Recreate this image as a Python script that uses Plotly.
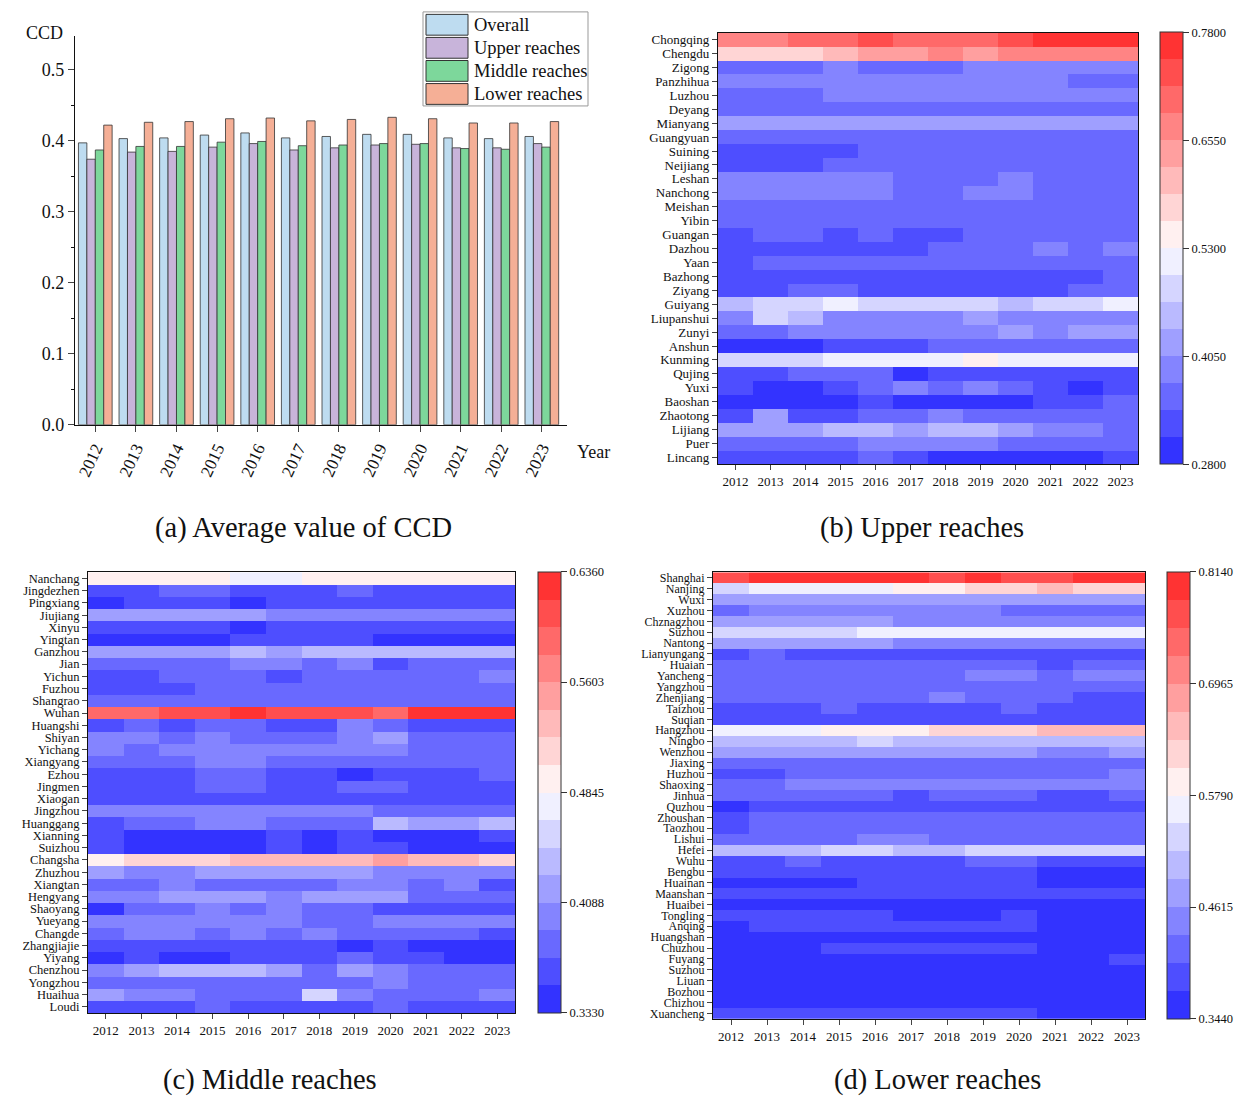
import plotly.graph_objects as go

# ---------------- data ----------------
years = [2012, 2013, 2014, 2015, 2016, 2017, 2018, 2019, 2020, 2021, 2022, 2023]

ccd_overall = [0.397, 0.403, 0.404, 0.408, 0.411, 0.404, 0.406, 0.409, 0.409, 0.404, 0.403, 0.406]
ccd_upper   = [0.374, 0.384, 0.385, 0.391, 0.396, 0.387, 0.390, 0.394, 0.395, 0.390, 0.390, 0.396]
ccd_middle  = [0.387, 0.392, 0.392, 0.398, 0.399, 0.393, 0.394, 0.396, 0.396, 0.389, 0.388, 0.391]
ccd_lower   = [0.422, 0.426, 0.427, 0.431, 0.432, 0.428, 0.430, 0.433, 0.431, 0.425, 0.425, 0.427]

upper_cities = ["Chongqing", "Chengdu", "Zigong", "Panzhihua", "Luzhou", "Deyang", "Mianyang",
                "Guangyuan", "Suining", "Neijiang", "Leshan", "Nanchong", "Meishan", "Yibin",
                "Guangan", "Dazhou", "Yaan", "Bazhong", "Ziyang", "Guiyang", "Liupanshui", "Zunyi",
                "Anshun", "Kunming", "Qujing", "Yuxi", "Baoshan", "Zhaotong", "Lijiang", "Puer", "Lincang"]
upper_ccd = [
    [0.671, 0.671, 0.702, 0.702, 0.733, 0.702, 0.702, 0.702, 0.733, 0.764, 0.764, 0.764],
    [0.577, 0.577, 0.577, 0.608, 0.639, 0.639, 0.671, 0.639, 0.671, 0.671, 0.671, 0.671],
    [0.358, 0.358, 0.358, 0.389, 0.358, 0.358, 0.358, 0.389, 0.389, 0.389, 0.389, 0.389],
    [0.389, 0.389, 0.389, 0.389, 0.389, 0.389, 0.389, 0.389, 0.389, 0.389, 0.358, 0.358],
    [0.358, 0.358, 0.358, 0.389, 0.389, 0.389, 0.389, 0.389, 0.389, 0.389, 0.389, 0.389],
    [0.358, 0.358, 0.358, 0.358, 0.358, 0.358, 0.358, 0.358, 0.358, 0.358, 0.358, 0.358],
    [0.421, 0.421, 0.421, 0.421, 0.421, 0.421, 0.421, 0.421, 0.421, 0.421, 0.421, 0.421],
    [0.358, 0.358, 0.358, 0.358, 0.358, 0.358, 0.358, 0.358, 0.358, 0.358, 0.358, 0.358],
    [0.327, 0.327, 0.327, 0.327, 0.358, 0.358, 0.358, 0.358, 0.358, 0.358, 0.358, 0.358],
    [0.327, 0.327, 0.327, 0.358, 0.358, 0.358, 0.358, 0.358, 0.358, 0.358, 0.358, 0.358],
    [0.389, 0.389, 0.389, 0.389, 0.389, 0.358, 0.358, 0.358, 0.389, 0.358, 0.358, 0.358],
    [0.389, 0.389, 0.389, 0.389, 0.389, 0.358, 0.358, 0.389, 0.389, 0.358, 0.358, 0.358],
    [0.358, 0.358, 0.358, 0.358, 0.358, 0.358, 0.358, 0.358, 0.358, 0.358, 0.358, 0.358],
    [0.358, 0.358, 0.358, 0.358, 0.358, 0.358, 0.358, 0.358, 0.358, 0.358, 0.358, 0.358],
    [0.327, 0.358, 0.358, 0.327, 0.358, 0.327, 0.327, 0.358, 0.358, 0.358, 0.358, 0.358],
    [0.327, 0.327, 0.327, 0.327, 0.327, 0.327, 0.358, 0.358, 0.358, 0.389, 0.358, 0.389],
    [0.327, 0.358, 0.358, 0.358, 0.358, 0.358, 0.358, 0.358, 0.358, 0.358, 0.358, 0.358],
    [0.327, 0.327, 0.327, 0.327, 0.327, 0.327, 0.327, 0.327, 0.327, 0.327, 0.327, 0.358],
    [0.327, 0.327, 0.358, 0.358, 0.327, 0.327, 0.327, 0.327, 0.327, 0.327, 0.358, 0.358],
    [0.452, 0.483, 0.483, 0.514, 0.483, 0.483, 0.483, 0.483, 0.452, 0.483, 0.483, 0.514],
    [0.389, 0.483, 0.452, 0.389, 0.389, 0.389, 0.389, 0.421, 0.389, 0.389, 0.389, 0.389],
    [0.358, 0.358, 0.389, 0.389, 0.389, 0.389, 0.389, 0.389, 0.421, 0.389, 0.421, 0.421],
    [0.296, 0.296, 0.296, 0.327, 0.327, 0.327, 0.358, 0.358, 0.358, 0.358, 0.358, 0.358],
    [0.483, 0.483, 0.483, 0.514, 0.514, 0.514, 0.514, 0.546, 0.514, 0.514, 0.514, 0.514],
    [0.327, 0.327, 0.358, 0.358, 0.358, 0.296, 0.327, 0.327, 0.327, 0.327, 0.327, 0.327],
    [0.327, 0.296, 0.296, 0.327, 0.358, 0.389, 0.358, 0.389, 0.358, 0.327, 0.296, 0.327],
    [0.296, 0.296, 0.296, 0.296, 0.327, 0.296, 0.296, 0.296, 0.296, 0.327, 0.327, 0.358],
    [0.327, 0.421, 0.327, 0.327, 0.358, 0.358, 0.389, 0.358, 0.358, 0.358, 0.358, 0.358],
    [0.421, 0.421, 0.421, 0.452, 0.452, 0.421, 0.452, 0.452, 0.421, 0.389, 0.389, 0.358],
    [0.358, 0.358, 0.358, 0.358, 0.389, 0.389, 0.389, 0.389, 0.358, 0.358, 0.358, 0.358],
    [0.327, 0.327, 0.327, 0.327, 0.358, 0.327, 0.296, 0.296, 0.296, 0.296, 0.296, 0.327],
]
upper_ticks = [0.28, 0.405, 0.53, 0.655, 0.78]

middle_cities = ["Nanchang", "Jingdezhen", "Pingxiang", "Jiujiang", "Xinyu", "Yingtan", "Ganzhou",
                 "Jian", "Yichun", "Fuzhou", "Shangrao", "Wuhan", "Huangshi", "Shiyan", "Yichang",
                 "Xiangyang", "Ezhou", "Jingmen", "Xiaogan", "Jingzhou", "Huanggang", "Xianning",
                 "Suizhou", "Changsha", "Zhuzhou", "Xiangtan", "Hengyang", "Shaoyang", "Yueyang",
                 "Changde", "Zhangjiajie", "Yiyang", "Chenzhou", "Yongzhou", "Huaihua", "Loudi"]
middle_ccd = [
    [0.494, 0.494, 0.494, 0.494, 0.475, 0.475, 0.494, 0.494, 0.494, 0.494, 0.494, 0.494],
    [0.361, 0.361, 0.380, 0.380, 0.361, 0.361, 0.361, 0.380, 0.361, 0.361, 0.361, 0.361],
    [0.342, 0.361, 0.361, 0.361, 0.342, 0.361, 0.361, 0.361, 0.361, 0.361, 0.361, 0.361],
    [0.418, 0.418, 0.418, 0.418, 0.418, 0.399, 0.399, 0.399, 0.399, 0.399, 0.399, 0.399],
    [0.361, 0.361, 0.361, 0.361, 0.342, 0.361, 0.361, 0.361, 0.361, 0.361, 0.361, 0.361],
    [0.342, 0.342, 0.342, 0.342, 0.361, 0.361, 0.361, 0.361, 0.342, 0.342, 0.342, 0.342],
    [0.418, 0.418, 0.418, 0.418, 0.437, 0.418, 0.437, 0.437, 0.437, 0.437, 0.437, 0.437],
    [0.380, 0.380, 0.380, 0.380, 0.399, 0.399, 0.380, 0.399, 0.361, 0.380, 0.380, 0.380],
    [0.361, 0.361, 0.380, 0.380, 0.380, 0.361, 0.380, 0.380, 0.380, 0.380, 0.380, 0.399],
    [0.361, 0.361, 0.361, 0.380, 0.380, 0.380, 0.380, 0.380, 0.380, 0.380, 0.380, 0.380],
    [0.380, 0.380, 0.380, 0.380, 0.380, 0.380, 0.380, 0.380, 0.380, 0.380, 0.380, 0.380],
    [0.589, 0.589, 0.608, 0.608, 0.627, 0.608, 0.608, 0.608, 0.589, 0.627, 0.627, 0.627],
    [0.361, 0.380, 0.361, 0.380, 0.380, 0.361, 0.361, 0.399, 0.380, 0.361, 0.361, 0.361],
    [0.399, 0.399, 0.380, 0.399, 0.380, 0.380, 0.380, 0.399, 0.418, 0.380, 0.380, 0.380],
    [0.399, 0.380, 0.399, 0.399, 0.399, 0.399, 0.399, 0.399, 0.399, 0.380, 0.380, 0.380],
    [0.380, 0.380, 0.380, 0.399, 0.399, 0.380, 0.380, 0.380, 0.380, 0.380, 0.380, 0.380],
    [0.361, 0.361, 0.361, 0.380, 0.380, 0.361, 0.361, 0.342, 0.361, 0.361, 0.361, 0.380],
    [0.361, 0.361, 0.361, 0.380, 0.380, 0.361, 0.361, 0.380, 0.380, 0.361, 0.361, 0.361],
    [0.361, 0.361, 0.361, 0.361, 0.361, 0.361, 0.361, 0.361, 0.361, 0.361, 0.361, 0.361],
    [0.399, 0.399, 0.399, 0.399, 0.399, 0.399, 0.399, 0.399, 0.380, 0.380, 0.380, 0.380],
    [0.361, 0.380, 0.380, 0.399, 0.399, 0.380, 0.380, 0.380, 0.437, 0.418, 0.418, 0.437],
    [0.361, 0.342, 0.342, 0.342, 0.342, 0.361, 0.342, 0.361, 0.342, 0.342, 0.342, 0.361],
    [0.361, 0.342, 0.342, 0.342, 0.342, 0.361, 0.342, 0.361, 0.361, 0.342, 0.342, 0.342],
    [0.494, 0.513, 0.513, 0.513, 0.532, 0.532, 0.532, 0.532, 0.551, 0.532, 0.532, 0.513],
    [0.418, 0.399, 0.399, 0.418, 0.418, 0.418, 0.418, 0.418, 0.399, 0.399, 0.399, 0.399],
    [0.380, 0.380, 0.399, 0.380, 0.380, 0.380, 0.380, 0.399, 0.399, 0.380, 0.399, 0.361],
    [0.399, 0.399, 0.418, 0.418, 0.418, 0.399, 0.418, 0.418, 0.418, 0.380, 0.380, 0.380],
    [0.342, 0.380, 0.380, 0.399, 0.380, 0.399, 0.380, 0.380, 0.361, 0.361, 0.361, 0.361],
    [0.399, 0.399, 0.399, 0.399, 0.399, 0.399, 0.380, 0.380, 0.399, 0.399, 0.399, 0.399],
    [0.380, 0.399, 0.399, 0.380, 0.399, 0.380, 0.399, 0.380, 0.380, 0.380, 0.380, 0.361],
    [0.361, 0.361, 0.361, 0.361, 0.361, 0.361, 0.361, 0.342, 0.361, 0.342, 0.342, 0.342],
    [0.342, 0.361, 0.342, 0.342, 0.361, 0.361, 0.361, 0.380, 0.361, 0.361, 0.342, 0.342],
    [0.399, 0.418, 0.437, 0.437, 0.437, 0.418, 0.380, 0.418, 0.399, 0.380, 0.380, 0.380],
    [0.380, 0.380, 0.380, 0.380, 0.380, 0.380, 0.380, 0.380, 0.399, 0.380, 0.380, 0.380],
    [0.418, 0.399, 0.399, 0.380, 0.380, 0.380, 0.456, 0.399, 0.380, 0.380, 0.380, 0.399],
    [0.361, 0.361, 0.361, 0.380, 0.361, 0.361, 0.361, 0.361, 0.380, 0.361, 0.361, 0.361],
]
middle_ticks = [0.333, 0.4088, 0.4845, 0.5603, 0.636]

lower_cities = ["Shanghai", "Nanjing", "Wuxi", "Xuzhou", "Chznagzhou", "Suzhou", "Nantong",
                "Lianyungang", "Huaian", "Yancheng", "Yangzhou", "Zhenjiang", "Taizhou", "Suqian",
                "Hangzhou", "Ningbo", "Wenzhou", "Jiaxing", "Huzhou", "Shaoxing", "Jinhua", "Quzhou",
                "Zhoushan", "Taozhou", "Lishui", "Hefei", "Wuhu", "Bengbu", "Huainan", "Maanshan",
                "Huaibei", "Tongling", "Anqing", "Huangshan", "Chuzhou", "Fuyang", "Suzhou", "Liuan",
                "Bozhou", "Chizhou", "Xuancheng"]
lower_ccd = [
    [0.770, 0.799, 0.799, 0.799, 0.799, 0.799, 0.770, 0.799, 0.770, 0.770, 0.799, 0.799],
    [0.535, 0.564, 0.564, 0.564, 0.564, 0.594, 0.594, 0.623, 0.623, 0.652, 0.623, 0.623],
    [0.476, 0.476, 0.476, 0.476, 0.476, 0.476, 0.476, 0.476, 0.476, 0.476, 0.476, 0.476],
    [0.417, 0.447, 0.447, 0.447, 0.447, 0.447, 0.447, 0.447, 0.417, 0.417, 0.417, 0.417],
    [0.476, 0.476, 0.476, 0.476, 0.476, 0.447, 0.447, 0.447, 0.447, 0.447, 0.447, 0.447],
    [0.535, 0.535, 0.535, 0.535, 0.564, 0.564, 0.564, 0.564, 0.564, 0.564, 0.564, 0.564],
    [0.476, 0.476, 0.476, 0.476, 0.476, 0.447, 0.447, 0.447, 0.447, 0.447, 0.447, 0.447],
    [0.388, 0.417, 0.388, 0.388, 0.388, 0.388, 0.388, 0.388, 0.388, 0.388, 0.388, 0.388],
    [0.417, 0.417, 0.417, 0.417, 0.417, 0.417, 0.417, 0.417, 0.417, 0.388, 0.417, 0.417],
    [0.417, 0.417, 0.417, 0.417, 0.417, 0.417, 0.417, 0.447, 0.447, 0.417, 0.447, 0.447],
    [0.417, 0.417, 0.417, 0.417, 0.417, 0.417, 0.417, 0.417, 0.417, 0.417, 0.417, 0.417],
    [0.417, 0.417, 0.417, 0.417, 0.417, 0.417, 0.447, 0.417, 0.417, 0.417, 0.388, 0.388],
    [0.388, 0.388, 0.388, 0.417, 0.388, 0.388, 0.388, 0.388, 0.417, 0.388, 0.388, 0.388],
    [0.388, 0.388, 0.388, 0.388, 0.388, 0.388, 0.388, 0.388, 0.388, 0.388, 0.388, 0.388],
    [0.564, 0.564, 0.564, 0.594, 0.594, 0.594, 0.623, 0.623, 0.623, 0.652, 0.652, 0.652],
    [0.506, 0.506, 0.506, 0.506, 0.535, 0.506, 0.506, 0.506, 0.506, 0.506, 0.506, 0.506],
    [0.476, 0.476, 0.476, 0.476, 0.476, 0.476, 0.476, 0.476, 0.476, 0.447, 0.447, 0.476],
    [0.417, 0.417, 0.417, 0.417, 0.417, 0.417, 0.417, 0.417, 0.417, 0.417, 0.417, 0.417],
    [0.388, 0.388, 0.417, 0.417, 0.417, 0.417, 0.417, 0.417, 0.417, 0.417, 0.417, 0.447],
    [0.417, 0.417, 0.447, 0.447, 0.447, 0.447, 0.447, 0.447, 0.447, 0.447, 0.447, 0.447],
    [0.417, 0.417, 0.417, 0.417, 0.417, 0.388, 0.417, 0.417, 0.417, 0.388, 0.388, 0.417],
    [0.359, 0.388, 0.388, 0.388, 0.388, 0.388, 0.388, 0.388, 0.388, 0.388, 0.388, 0.388],
    [0.388, 0.417, 0.417, 0.417, 0.417, 0.417, 0.417, 0.417, 0.417, 0.417, 0.417, 0.417],
    [0.388, 0.417, 0.417, 0.417, 0.417, 0.417, 0.417, 0.417, 0.417, 0.417, 0.417, 0.417],
    [0.417, 0.417, 0.417, 0.417, 0.447, 0.447, 0.417, 0.417, 0.417, 0.417, 0.417, 0.417],
    [0.506, 0.506, 0.506, 0.535, 0.535, 0.506, 0.506, 0.535, 0.535, 0.535, 0.535, 0.535],
    [0.388, 0.388, 0.417, 0.388, 0.388, 0.388, 0.388, 0.417, 0.417, 0.388, 0.388, 0.388],
    [0.388, 0.388, 0.388, 0.388, 0.388, 0.388, 0.388, 0.388, 0.388, 0.359, 0.359, 0.359],
    [0.359, 0.359, 0.359, 0.359, 0.388, 0.388, 0.388, 0.388, 0.388, 0.359, 0.359, 0.359],
    [0.388, 0.388, 0.388, 0.388, 0.388, 0.388, 0.388, 0.388, 0.388, 0.388, 0.388, 0.388],
    [0.359, 0.359, 0.359, 0.359, 0.359, 0.359, 0.359, 0.359, 0.359, 0.359, 0.359, 0.359],
    [0.388, 0.388, 0.388, 0.388, 0.388, 0.359, 0.359, 0.359, 0.388, 0.359, 0.359, 0.359],
    [0.359, 0.388, 0.388, 0.388, 0.388, 0.388, 0.388, 0.388, 0.388, 0.359, 0.359, 0.359],
    [0.359, 0.359, 0.359, 0.359, 0.359, 0.359, 0.359, 0.359, 0.359, 0.359, 0.359, 0.359],
    [0.359, 0.359, 0.359, 0.388, 0.388, 0.388, 0.388, 0.388, 0.388, 0.359, 0.359, 0.359],
    [0.359, 0.359, 0.359, 0.359, 0.359, 0.359, 0.359, 0.359, 0.359, 0.359, 0.359, 0.388],
    [0.359, 0.359, 0.359, 0.359, 0.359, 0.359, 0.359, 0.359, 0.359, 0.359, 0.359, 0.359],
    [0.359, 0.359, 0.359, 0.359, 0.359, 0.359, 0.359, 0.359, 0.359, 0.359, 0.359, 0.359],
    [0.359, 0.359, 0.359, 0.359, 0.359, 0.359, 0.359, 0.359, 0.359, 0.359, 0.359, 0.359],
    [0.359, 0.359, 0.359, 0.359, 0.359, 0.359, 0.359, 0.359, 0.359, 0.359, 0.359, 0.359],
    [0.388, 0.388, 0.388, 0.388, 0.388, 0.388, 0.388, 0.388, 0.388, 0.359, 0.359, 0.359],
]
lower_ticks = [0.344, 0.4615, 0.579, 0.6965, 0.814]

# ---------------- styling ----------------
W, H = 1252, 1113
FONT = "Liberation Serif, Times New Roman, serif"
NB = 16


def band_color(i):
    if i < NB // 2:
        v = 51 + 27 * i
        return f"rgb({v},{v},255)"
    v = 51 + 27 * (NB - 1 - i)
    return f"rgb(255,{v},{v})"


colorscale = []
for i in range(NB):
    c = band_color(i)
    colorscale.append([i / NB, c])
    colorscale.append([(i + 1) / NB, c])


def px(x):
    return x / W


def py(y):
    return 1 - y / H


def xd(a, b):
    return [a / W, b / W]


def yd(top, bottom):
    return [1 - bottom / H, 1 - top / H]


fig = go.Figure()

# ---- panel (a): grouped bars ----
bar_series = [
    ("Overall", ccd_overall, "#BEDCF0"),
    ("Upper reaches", ccd_upper, "#C8B4DA"),
    ("Middle reaches", ccd_middle, "#7DD79B"),
    ("Lower reaches", ccd_lower, "#F5AF96"),
]
for name, vals, col in bar_series:
    fig.add_trace(go.Bar(x=years, y=vals, name=name, showlegend=False,
                         marker=dict(color=col, line=dict(color="#333", width=0.8)),
                         xaxis="x", yaxis="y"))

# ---- heatmaps ----
panels = [
    ("x2", "y2", upper_cities, upper_ccd, upper_ticks, (718, 1138), (32, 468), 1160, 13),
    ("x3", "y3", middle_cities, middle_ccd, middle_ticks, (88, 515), (577, 1022), 538, 12.5),
    ("x4", "y4", lower_cities, lower_ccd, lower_ticks, (713, 1145), (577, 1028), 1167, 12),
]

for xa, ya, cities, z, ticks, (x0, x1), (y0, y1), cbx, fs in panels:
    fig.add_trace(go.Heatmap(
        x=years, y=list(range(len(cities))), z=z,
        zmin=ticks[0], zmax=ticks[-1], colorscale=colorscale,
        xaxis=xa, yaxis=ya, showscale=True,
        colorbar=dict(
            x=cbx / W, xanchor="left", y=1 - y1 / H, yanchor="bottom",
            len=(y1 - y0) / H, lenmode="fraction", thickness=23,
            xpad=0, ypad=0,
            outlinewidth=1, outlinecolor="#333",
            tickvals=ticks, ticktext=[f"{t:.4f}" for t in ticks],
            ticks="outside", ticklen=6, tickcolor="#333",
            tickfont=dict(family=FONT, size=12.5, color="#111"),
        ),
    ))

layout = dict(
    width=W, height=H, autosize=False,
    margin=dict(l=0, r=0, t=0, b=0),
    paper_bgcolor="white", plot_bgcolor="white",
    font=dict(family=FONT, color="#111"),
    barmode="group", bargap=0.17, bargroupgap=0.0,
    showlegend=False,
    xaxis=dict(domain=xd(75, 567), anchor="y", range=[2011.5, 2023.62],
               tickvals=years, ticktext=[str(y) for y in years], tickangle=-65,
               showline=True, linecolor="#111", linewidth=1.2, ticks="outside", ticklen=6,
               tickfont=dict(family=FONT, size=17), showgrid=False, zeroline=False),
    yaxis=dict(domain=yd(35, 428), anchor="x", range=[0, 0.548],
               tickvals=[0, 0.1, 0.2, 0.3, 0.4, 0.5], ticktext=["0.0", "0.1", "0.2", "0.3", "0.4", "0.5"],
               showline=True, linecolor="#111", linewidth=1.2, ticks="outside", ticklen=6,
               minor=dict(ticks="outside", ticklen=3, dtick=0.05, tick0=0, tickcolor="#111"),
               tickfont=dict(family=FONT, size=18), showgrid=False, zeroline=False),
)

for idx, (xa, ya, cities, z, ticks, (x0, x1), (y0, y1), cbx, fs) in enumerate(panels, start=2):
    layout[f"xaxis{idx}"] = dict(
        domain=xd(x0, x1), anchor=ya, range=[2011.5, 2023.5],
        tickvals=years, ticktext=[str(y) for y in years],
        showline=True, mirror=True, linecolor="#111", linewidth=1.2,
        ticks="outside", ticklen=5, tickfont=dict(family=FONT, size=13),
        showgrid=False, zeroline=False)
    layout[f"yaxis{idx}"] = dict(
        domain=yd(y0, y1), anchor=xa, autorange="reversed",
        tickvals=list(range(len(cities))), ticktext=cities,
        showline=True, mirror=True, linecolor="#111", linewidth=1.2,
        ticks="outside", ticklen=5, tickfont=dict(family=FONT, size=fs),
        showgrid=False, zeroline=False)

fig.update_layout(**layout)

# ---- custom legend for panel (a) ----
fig.add_shape(type="rect", xref="paper", yref="paper",
              x0=px(423), x1=px(588), y0=py(106), y1=py(11),
              line=dict(color="#999", width=1), fillcolor="white", layer="above")
for k, (name, vals, col) in enumerate(bar_series):
    cy = 24 + 23.3 * k
    fig.add_shape(type="rect", xref="paper", yref="paper",
                  x0=px(426), x1=px(468), y0=py(cy + 10.5), y1=py(cy - 10.5),
                  line=dict(color="#333", width=1), fillcolor=col, layer="above")
    fig.add_annotation(text=name, x=px(472), y=py(cy), xref="paper", yref="paper",
                       xanchor="left", yanchor="middle", showarrow=False,
                       font=dict(family=FONT, size=18.5, color="#111"))

# ---- annotations ----
ann = [
    dict(text="CCD", x=65 / W, y=1 - 32 / H, xanchor="right", yanchor="middle", size=18),
    dict(text="Year", x=575 / W, y=1 - 456 / H, xanchor="left", yanchor="middle", size=18),
    dict(text="(a) Average value of CCD", x=303 / W, y=1 - 532 / H, xanchor="center", yanchor="middle", size=28.5),
    dict(text="(b) Upper reaches", x=922 / W, y=1 - 532 / H, xanchor="center", yanchor="middle", size=28.5),
    dict(text="(c) Middle reaches", x=270 / W, y=1 - 1090 / H, xanchor="center", yanchor="middle", size=28.5),
    dict(text="(d) Lower reaches", x=937 / W, y=1 - 1090 / H, xanchor="center", yanchor="middle", size=28.5),
]
for a in ann:
    fig.add_annotation(text=a["text"], x=a["x"], y=a["y"], xref="paper", yref="paper",
                       xanchor=a["xanchor"], yanchor=a["yanchor"], showarrow=False,
                       font=dict(family=FONT, size=a["size"], color="#111"))

fig.write_html("out.html", config={"displayModeBar": False},
               post_script="document.body.style.margin='0px';document.body.style.padding='0px';")
